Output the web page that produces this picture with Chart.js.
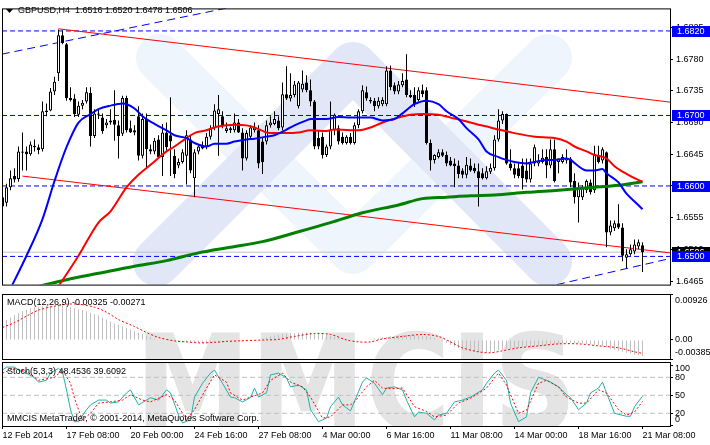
<!DOCTYPE html>
<html>
<head>
<meta charset="utf-8">
<script src="https://cdn.jsdelivr.net/npm/chart.js@4.4.1/dist/chart.umd.min.js"></script>
<style>
  body { margin: 0; background: #fff; width: 710px; height: 445px; overflow: hidden; position: relative; }
  canvas { position: absolute; left: 0; }
  #main { top: 0; }
  #macd { top: 293px; }
  #stoch { top: 361px; }
</style>
</head>
<body>
<canvas id="main" width="710" height="293"></canvas>
<canvas id="macd" width="710" height="68"></canvas>
<canvas id="stoch" width="710" height="84"></canvas>
<script>
// GBPUSD H4 candles, 12 Feb 16:00 .. 21 Mar 08:00
const opens = [1.6584,1.6576,1.6598,1.6614,1.6610,1.6649,1.6649,1.6645,1.6657,1.6655,
  1.6652,1.6707,1.6707,1.6734,1.6760,1.6814,1.6801,1.6725,1.6724,1.6701,
  1.6714,1.6720,1.6732,1.6671,1.6703,1.6697,1.6686,1.6693,1.6694,1.6686,
  1.6674,1.6725,1.6682,1.6679,1.6699,1.6643,1.6695,1.6652,1.6649,1.6666,
  1.6641,1.6676,1.6672,1.6643,1.6629,1.6634,1.6643,1.6666,1.6611,1.6649,
  1.6657,1.6656,1.6670,1.6682,1.6702,1.6699,1.6678,1.6679,1.6679,1.6690,
  1.6676,1.6639,1.6670,1.6679,1.6679,1.6663,1.6663,1.6686,1.6688,1.6693,
  1.6683,1.6730,1.6724,1.6729,1.6713,1.6737,1.6747,1.6736,1.6720,1.6668,
  1.6670,1.6644,1.6656,1.6679,1.6682,1.6670,1.6661,1.6670,1.6661,1.6686,
  1.6706,1.6733,1.6722,1.6721,1.6713,1.6716,1.6716,1.6764,1.6743,1.6734,
  1.6743,1.6751,1.6729,1.6729,1.6722,1.6736,1.6736,1.6661,1.6637,1.6641,
  1.6648,1.6644,1.6636,1.6632,1.6629,1.6622,1.6616,1.6629,1.6626,1.6621,
  1.6618,1.6611,1.6620,1.6625,1.6666,1.6693,1.6702,1.6632,1.6625,1.6625,
  1.6629,1.6622,1.6609,1.6632,1.6632,1.6634,1.6641,1.6629,1.6652,1.6634,
  1.6634,1.6636,1.6639,1.6607,1.6584,1.6584,1.6594,1.6605,1.6594,1.6643,
  1.6636,1.6648,1.6534,1.6540,1.6547,1.6541,1.6498,1.6503,1.6507,1.6514,
  1.6516];
const highs = [1.6605,1.6603,1.6622,1.6625,1.6656,1.6676,1.6656,1.6663,1.6666,1.6659,
  1.6720,1.6717,1.6739,1.6755,1.6822,1.6821,1.6803,1.6740,1.6730,1.6720,
  1.6722,1.6740,1.6740,1.6709,1.6709,1.6703,1.6695,1.6709,1.6736,1.6693,
  1.6728,1.6728,1.6693,1.6686,1.6713,1.6703,1.6703,1.6659,1.6668,1.6672,
  1.6688,1.6690,1.6726,1.6652,1.6639,1.6652,1.6679,1.6672,1.6652,1.6659,
  1.6663,1.6675,1.6686,1.6716,1.6729,1.6706,1.6690,1.6684,1.6703,1.6695,
  1.6682,1.6679,1.6686,1.6690,1.6686,1.6668,1.6693,1.6699,1.6706,1.6699,
  1.6747,1.6770,1.6760,1.6749,1.6749,1.6764,1.6757,1.6751,1.6722,1.6679,
  1.6676,1.6659,1.6720,1.6703,1.6686,1.6676,1.6672,1.6675,1.6690,1.6709,
  1.6743,1.6741,1.6726,1.6725,1.6726,1.6726,1.6770,1.6771,1.6747,1.6749,
  1.6760,1.6787,1.6736,1.6740,1.6740,1.6744,1.6740,1.6666,1.6645,1.6652,
  1.6652,1.6649,1.6641,1.6639,1.6636,1.6625,1.6641,1.6639,1.6632,1.6632,
  1.6625,1.6628,1.6632,1.6672,1.6709,1.6706,1.6703,1.6652,1.6632,1.6634,
  1.6639,1.6639,1.6639,1.6659,1.6645,1.6652,1.6652,1.6666,1.6666,1.6639,
  1.6645,1.6652,1.6641,1.6618,1.6605,1.6601,1.6609,1.6609,1.6657,1.6657,
  1.6655,1.6649,1.6551,1.6551,1.6574,1.6547,1.6510,1.6517,1.6524,1.6524,
  1.6520];
const lows = [1.6537,1.6571,1.6594,1.6605,1.6606,1.6622,1.6622,1.6643,1.6649,1.6645,
  1.6649,1.6699,1.6706,1.6729,1.6749,1.6801,1.6721,1.6720,1.6698,1.6698,
  1.6709,1.6717,1.6656,1.6668,1.6695,1.6674,1.6682,1.6687,1.6664,1.6639,
  1.6671,1.6676,1.6675,1.6672,1.6636,1.6639,1.6625,1.6645,1.6645,1.6639,
  1.6614,1.6649,1.6614,1.6611,1.6625,1.6632,1.6602,1.6618,1.6584,1.6645,
  1.6652,1.6652,1.6666,1.6679,1.6643,1.6682,1.6675,1.6675,1.6676,1.6675,
  1.6622,1.6636,1.6666,1.6676,1.6625,1.6617,1.6659,1.6683,1.6686,1.6679,
  1.6679,1.6722,1.6720,1.6726,1.6710,1.6733,1.6733,1.6713,1.6652,1.6652,
  1.6639,1.6641,1.6652,1.6672,1.6659,1.6659,1.6659,1.6659,1.6659,1.6682,
  1.6703,1.6721,1.6717,1.6706,1.6710,1.6713,1.6713,1.6736,1.6730,1.6730,
  1.6740,1.6726,1.6725,1.6712,1.6720,1.6726,1.6659,1.6622,1.6632,1.6639,
  1.6641,1.6628,1.6628,1.6598,1.6611,1.6611,1.6611,1.6620,1.6618,1.6571,
  1.6609,1.6609,1.6617,1.6622,1.6663,1.6688,1.6630,1.6622,1.6611,1.6611,
  1.6595,1.6605,1.6605,1.6628,1.6628,1.6632,1.6611,1.6625,1.6605,1.6618,
  1.6632,1.6632,1.6598,1.6575,1.6548,1.6580,1.6590,1.6588,1.6590,1.6632,
  1.6632,1.6513,1.6530,1.6536,1.6539,1.6493,1.6483,1.6501,1.6503,1.6510,
  1.6478];
const closes = [1.6571,1.6598,1.6611,1.6609,1.6649,1.6647,1.6645,1.6659,1.6655,1.6651,
  1.6706,1.6705,1.6734,1.6748,1.6814,1.6803,1.6725,1.6722,1.6702,1.6714,
  1.6718,1.6733,1.6671,1.6703,1.6701,1.6678,1.6690,1.6690,1.6687,1.6671,
  1.6725,1.6679,1.6676,1.6676,1.6643,1.6695,1.6652,1.6649,1.6664,1.6641,
  1.6676,1.6655,1.6663,1.6617,1.6634,1.6648,1.6672,1.6622,1.6648,1.6656,
  1.6653,1.6670,1.6682,1.6707,1.6709,1.6686,1.6682,1.6682,1.6690,1.6676,
  1.6639,1.6675,1.6683,1.6683,1.6632,1.6634,1.6686,1.6690,1.6695,1.6682,
  1.6730,1.6724,1.6729,1.6744,1.6747,1.6745,1.6736,1.6720,1.6656,1.6656,
  1.6644,1.6656,1.6680,1.6701,1.6663,1.6661,1.6670,1.6661,1.6686,1.6706,
  1.6736,1.6724,1.6720,1.6713,1.6721,1.6722,1.6764,1.6740,1.6734,1.6744,
  1.6749,1.6729,1.6726,1.6716,1.6736,1.6730,1.6661,1.6636,1.6644,1.6648,
  1.6643,1.6632,1.6629,1.6628,1.6617,1.6616,1.6630,1.6622,1.6621,1.6611,
  1.6611,1.6621,1.6626,1.6666,1.6693,1.6702,1.6632,1.6625,1.6616,1.6614,
  1.6611,1.6609,1.6632,1.6655,1.6636,1.6640,1.6629,1.6652,1.6607,1.6639,
  1.6641,1.6640,1.6605,1.6584,1.6598,1.6599,1.6607,1.6591,1.6645,1.6634,
  1.6652,1.6534,1.6544,1.6547,1.6541,1.6501,1.6503,1.6510,1.6517,1.6520,
  1.6506];

// moving averages, read at sample bars
const blueMaIdx = [1,6,10,13,16,19,22,24,27,30,33,35,38,41,43,46,48,51,53,56,58,61,63,66,68,71,73,76,77,81,84,87,92,95,98,100,103,106,109,111,114,116,119,121,124,126,128,131,133,136,138,141,142,144,146,148,150,151,154,156,158,160];
const blueMaVal = [1.6443,1.6501,1.6553,1.6607,1.6655,1.6690,1.6702,1.6709,1.6714,1.6717,1.6710,1.6699,1.6688,1.6679,1.6672,1.6668,1.6661,1.6656,1.6660,1.6660,1.6663,1.6666,1.6667,1.6670,1.6672,1.6680,1.6686,1.6693,1.6695,1.6695,1.6698,1.6697,1.6697,1.6693,1.6695,1.6703,1.6716,1.6721,1.6716,1.6706,1.6695,1.6682,1.6666,1.6649,1.6641,1.6637,1.6634,1.6632,1.6634,1.6637,1.6637,1.6639,1.6637,1.6628,1.6622,1.6622,1.6624,1.6618,1.6605,1.6589,1.6578,1.6567];
const redMaIdx = [13,19,24,27,31,34,37,41,43,46,48,51,53,56,58,61,63,66,68,71,74,77,81,83,89,92,95,99,102,105,109,112,115,119,122,124,128,133,138,141,143,146,148,151,153,156,158,160];
const redMaVal = [1.6449,1.6501,1.6548,1.6564,1.6598,1.6616,1.6630,1.6649,1.6656,1.6668,1.6675,1.6679,1.6683,1.6686,1.6687,1.6686,1.6683,1.6676,1.6675,1.6675,1.6676,1.6679,1.6678,1.6680,1.6679,1.6683,1.6690,1.6697,1.6701,1.6702,1.6701,1.6697,1.6693,1.6687,1.6683,1.6680,1.6675,1.6670,1.6668,1.6663,1.6656,1.6649,1.6644,1.6639,1.6628,1.6617,1.6611,1.6606];
const greenMaIdx = [8,16,24,33,41,49,57,65,74,82,90,99,105,111,117,123,131,139,148,154,160];
const greenMaVal = [1.6456,1.6467,1.6476,1.6486,1.6494,1.6505,1.6513,1.6521,1.6535,1.6548,1.6562,1.6573,1.6582,1.6584,1.6586,1.6587,1.6591,1.6594,1.6598,1.6601,1.6606];

// drawn objects: trend channel and horizontal levels
const redUpper = [[14, 1.6823], [166.9, 1.6719]];
const redLower = [[5, 1.6614], [166.9, 1.6505]];
const blueUpper = [[-0.2, 1.6787], [60, 1.6857]];
const blueLower = [[138.6, 1.6460], [166.9, 1.6497]];
const levels = [1.6820, 1.6700, 1.6600, 1.6500];
const bidPrice = 1.6506;
const priceTicks = [1.6465, 1.6510, 1.6555, 1.6600, 1.6645, 1.6690, 1.6735, 1.6780, 1.6825];

// MACD(12,26,9)
const macdHist = [0.0035,0.0040,0.0045,0.0050,0.0054,0.0058,0.0061,0.0064,0.0066,0.0067,
  0.0068,0.0069,0.0069,0.0069,0.0069,0.0069,0.0068,0.0066,0.0064,0.0062,
  0.0060,0.0058,0.0055,0.0052,0.0049,0.0045,0.0041,0.0037,0.0033,0.0030,
  0.0027,0.0024,0.0021,0.0018,0.0015,0.0012,0.0009,0.0006,0.0003,0.0001,
  0.0000,-0.0001,-0.0002,-0.0003,-0.0004,-0.0005,-0.0005,-0.0005,-0.0006,-0.0006,
  -0.0006,-0.0005,-0.0005,-0.0005,-0.0005,-0.0005,-0.0004,-0.0004,-0.0004,-0.0003,
  -0.0003,-0.0002,-0.0001,0.0000,0.0001,0.0003,0.0005,0.0007,0.0009,0.0010,
  0.0012,0.0013,0.0014,0.0014,0.0015,0.0015,0.0015,0.0015,0.0014,0.0013,
  0.0012,0.0010,0.0008,0.0006,0.0004,0.0002,0.0001,0.0000,0.0000,0.0000,
  0.0001,0.0001,0.0002,0.0003,0.0004,0.0005,0.0006,0.0007,0.0008,0.0009,
  0.0010,0.0010,0.0010,0.0010,0.0009,0.0009,0.0008,0.0006,0.0004,0.0001,
  -0.0002,-0.0006,-0.0010,-0.0014,-0.0017,-0.0020,-0.0022,-0.0023,-0.0024,-0.0025,
  -0.0025,-0.0025,-0.0024,-0.0023,-0.0021,-0.0020,-0.0019,-0.0018,-0.0017,-0.0016,
  -0.0015,-0.0014,-0.0014,-0.0013,-0.0012,-0.0011,-0.0010,-0.0009,-0.0008,-0.0007,
  -0.0006,-0.0006,-0.0006,-0.0006,-0.0006,-0.0007,-0.0008,-0.0009,-0.0010,-0.0011,
  -0.0013,-0.0015,-0.0018,-0.0020,-0.0022,-0.0024,-0.0026,-0.0028,-0.0030,-0.0031,
  -0.00325];
const macdSigIdx = [0,3,6,9,13,16,19,23,26,29,33,36,39,43,46,49,53,56,59,66,69,73,78,82,86,89,92,95,100,105,109,112,115,119,122,125,129,134,139,144,149,154,158,160];
const macdSigVal = [0.0025,0.0035,0.0048,0.0060,0.0068,0.0072,0.0072,0.0066,0.0056,0.0041,0.0027,0.0015,0.0005,-0.0002,-0.0004,-0.0006,-0.0005,-0.0003,-0.0002,0.0000,0.0001,0.0007,0.0013,0.0011,0.0000,-0.0004,-0.0004,0.0002,0.0007,0.0011,0.0007,-0.0004,-0.0016,-0.0024,-0.0026,-0.0022,-0.0016,-0.0012,-0.0008,-0.0008,-0.0012,-0.0016,-0.0024,-0.00271];
const macdTicks = [0.00926, 0, -0.00385];

// Stochastic(5,3,3)
const stochMainIdx = [0,1,3,4,6,8,9,11,12,14,15,16,17,18,19,21,22,24,26,27,29,31,32,34,36,37,39,41,42,44,45,47,48,50,52,53,55,57,58,60,62,63,64,66,67,69,71,72,74,76,77,79,81,82,84,85,87,88,89,90,91,93,95,96,98,100,101,103,104,106,108,109,111,113,115,117,120,121,123,124,126,127,129,131,132,134,136,137,139,141,142,144,146,147,149,150,151,153,156,157,158,160];
const stochMainVal = [92,97,97,92,87,79,72,75,87,95,89,59,26,6,6,26,34,42,42,37,39,54,59,34,42,46,42,59,54,17,4,9,47,70,87,92,70,47,46,39,46,62,47,54,84,87,79,64,67,59,26,6,12,31,47,34,24,40,56,72,79,70,51,62,64,59,42,14,22,20,9,17,20,39,42,47,59,70,87,92,75,37,6,14,54,80,75,72,64,51,46,26,37,54,62,72,54,20,15,15,31,48.4536];
const stochSigIdx = [0,3,6,9,13,15,17,18,19,20,22,24,27,30,32,35,37,41,43,46,48,51,53,56,57,60,62,65,67,70,72,75,77,80,82,85,87,88,91,93,95,97,100,103,106,108,111,114,117,121,124,126,129,131,134,136,139,141,144,146,149,151,154,156,158,160];
const stochSigVal = [87,95,90,75,80,92,70,45,26,9,20,37,39,42,51,42,39,51,42,9,26,62,84,72,54,42,47,54,75,87,72,64,47,12,14,34,34,39,64,75,62,61,62,31,23,14,17,37,45,62,87,67,20,25,70,75,64,47,37,37,59,54,26,17,22,39.6092];
const stochLevels = [20, 50, 80];
const stochTicks = [100, 80, 50, 20, 0];

// time axis
const tickBars = [0,16,32,48,64,80,96,112,128,144,160];
const xLabels = ["12 Feb 2014","17 Feb 08:00","20 Feb 00:00","24 Feb 16:00","27 Feb 08:00","4 Mar 00:00","6 Mar 16:00","11 Mar 08:00","14 Mar 00:00","18 Mar 16:00","21 Mar 08:00"];

const FONT = "'Liberation Sans', Arial, sans-serif";
Chart.defaults.font.family = FONT;
Chart.defaults.font.size = 9;
Chart.defaults.color = '#000';

const xMin = -0.125, xMax = 166.875;
const bars = opens.map((_, i) => i);

function xScale(show) {
  return {
    type: 'linear', min: xMin, max: xMax, offset: false, display: show,
    afterBuildTicks: s => { s.ticks = tickBars.map(v => ({ value: v })); },
    afterFit: s => { s.paddingLeft = 0; s.paddingRight = 0; if (show) s.height = 19; },
    ticks: { autoSkip: false, maxRotation: 0, align: 'start', padding: 1, font: { size: 9 },
      callback: v => xLabels[tickBars.indexOf(v)] },
    grid: { drawOnChartArea: false, drawTicks: true, tickLength: 3, color: '#000' },
    border: { display: false }
  };
}

function yScale(min, max, ticks, showLabels) {
  return {
    position: 'right', min, max,
    afterBuildTicks: s => { s.ticks = ticks.map(v => ({ value: v })); },
    afterFit: s => { s.width = 40; },
    ticks: { display: showLabels, padding: 3, font: { size: 9 }, callback: v => v.toFixed(4) },
    grid: { drawOnChartArea: false, drawTicks: true, tickLength: 3, color: '#000' },
    border: { display: false }
  };
}

function lineSet(pairs, color, width, extra) {
  return Object.assign({
    type: 'line', data: pairs.map(p => ({ x: p[0], y: p[1] })),
    borderColor: color, borderWidth: width, pointRadius: 0, fill: false
  }, extra || {});
}
const zip = (a, b) => a.map((v, k) => [v, b[k]]);

const frame = {
  id: 'frame',
  afterDraw(chart) {
    const { ctx, chartArea: a } = chart;
    ctx.save();
    ctx.strokeStyle = '#000';
    ctx.lineWidth = 1;
    ctx.strokeRect(a.left + 0.5, a.top + 0.5, a.right - a.left, a.bottom - a.top);
    ctx.restore();
  }
};

// faint MMCIS logo behind the price chart
const logoBlue = {
  id: 'logoBlue',
  beforeDatasetsDraw(chart) {
    const { ctx, chartArea: a } = chart;
    ctx.save();
    ctx.beginPath(); ctx.rect(a.left, a.top, a.right - a.left, a.bottom - a.top); ctx.clip();
    ctx.lineCap = 'round'; ctx.lineJoin = 'round'; ctx.lineWidth = 48;
    ctx.strokeStyle = '#eff5fd';
    ctx.beginPath(); ctx.moveTo(160, 58); ctx.lineTo(353, 250); ctx.lineTo(548, 58); ctx.stroke();
    ctx.strokeStyle = '#e1e7f7';
    ctx.beginPath(); ctx.moveTo(157, 262); ctx.lineTo(353, 66); ctx.lineTo(548, 262); ctx.stroke();
    ctx.restore();
  }
};

function logoGrey(canvasTop) {
  return {
    id: 'logoGrey',
    beforeDatasetsDraw(chart) {
      const { ctx, chartArea: a } = chart;
      ctx.save();
      ctx.beginPath(); ctx.rect(a.left, a.top, a.right - a.left, a.bottom - a.top); ctx.clip();
      ctx.font = "bold 134px 'DejaVu Sans', sans-serif";
      ctx.fillStyle = '#e4e4e4';
      ctx.textBaseline = 'alphabetic';
      const w = ctx.measureText('MMCIS').width;
      ctx.translate(135, 430 - canvasTop);
      ctx.scale(442 / w, 1);
      ctx.fillText('MMCIS', 0, 0);
      ctx.restore();
    }
  };
}

const mainDecor = {
  id: 'mainDecor',
  afterDraw(chart) {
    const { ctx, chartArea: a, scales: { y } } = chart;
    ctx.save();
    // title
    ctx.fillStyle = '#000';
    ctx.beginPath(); ctx.moveTo(6, 9); ctx.lineTo(13, 9); ctx.lineTo(9.5, 13); ctx.closePath(); ctx.fill();
    ctx.font = `9px ${FONT}`;
    ctx.textBaseline = 'middle'; ctx.textAlign = 'left';
    const n = closes.length - 1;
    ctx.fillText(`GBPUSD,H4  ${opens[n].toFixed(4)} ${highs[n].toFixed(4)} ${lows[n].toFixed(4)} ${closes[n].toFixed(4)}`, 18, 11);
    // price boxes on the axis
    const box = (v, bg) => {
      const py = y.getPixelForValue(v);
      ctx.fillStyle = bg;
      ctx.fillRect(a.right + 2, Math.round(py) - 5, 40, 11);
      ctx.fillStyle = '#fff';
      ctx.fillText(v.toFixed(4), a.right + 7, Math.round(py) + 0.5);
    };
    box(bidPrice, '#000');
    levels.forEach(v => box(v, '#0000ff'));
    ctx.restore();
  }
};

function sideLabels(values, fmt, texts) {
  return {
    id: 'sideLabels',
    afterDraw(chart) {
      const { ctx, chartArea: a, scales: { y } } = chart;
      ctx.save();
      ctx.font = `9px ${FONT}`; ctx.fillStyle = '#000';
      ctx.textBaseline = 'middle'; ctx.textAlign = 'left';
      values.forEach(v => {
        let py = y.getPixelForValue(v);
        py = Math.min(Math.max(py, a.top + 7), a.bottom - 6);
        ctx.fillText(fmt(v), a.right + 5, py);
      });
      texts.forEach(t => ctx.fillText(t[0], 7, t[1]));
      ctx.restore();
    }
  };
}

const common = {
  responsive: false, animation: false, events: [],
  plugins: { legend: { display: false }, tooltip: { enabled: false } }
};

// ---------------- PRICE CHART ----------------
new Chart(document.getElementById('main'), {
  type: 'bar',
  data: {
    datasets: [
      lineSet(zip(blueMaIdx, blueMaVal), '#0000ff', 2, { order: 0, cubicInterpolationMode: 'monotone' }),
      lineSet(zip(redMaIdx, redMaVal), '#ff0000', 2, { order: 1, cubicInterpolationMode: 'monotone' }),
      lineSet(zip(greenMaIdx, greenMaVal), '#008000', 3, { order: 2, cubicInterpolationMode: 'monotone' }),
      {
        type: 'bar', order: 3,
        data: bars.map(i => ({ x: i, y: [Math.min(opens[i], closes[i]), Math.max(opens[i], closes[i])] })),
        backgroundColor: bars.map(i => closes[i] >= opens[i] ? '#ffffff' : '#000000'),
        borderColor: '#000', borderWidth: 1, borderSkipped: false,
        barThickness: 3, grouped: false, inflateAmount: 0, minBarLength: 1
      },
      {
        type: 'bar', order: 4,
        data: bars.map(i => ({ x: i, y: [lows[i], highs[i]] })),
        backgroundColor: '#000', barThickness: 1, grouped: false, inflateAmount: 0
      },
      lineSet(redUpper, '#ff0000', 1, { order: 5 }),
      lineSet(redLower, '#ff0000', 1, { order: 5 }),
      lineSet(blueUpper, '#0000ff', 1, { order: 5, borderDash: [8, 5] }),
      lineSet(blueLower, '#0000ff', 1, { order: 5, borderDash: [8, 5] }),
      ...levels.map(v => lineSet([[xMin, v], [xMax, v]], '#0000ff', 1, { order: 6, borderDash: [5, 3] })),
      lineSet([[xMin, bidPrice], [xMax, bidPrice]], '#c0c0c0', 1, { order: 7 })
    ]
  },
  options: Object.assign({}, common, {
    layout: { padding: { left: 2, top: 2, right: 0, bottom: 1 } },
    scales: { x: xScale(false), y: yScale(1.6460, 1.6852, priceTicks, true) }
  }),
  plugins: [logoBlue, frame, mainDecor]
});

// ---------------- MACD ----------------
new Chart(document.getElementById('macd'), {
  type: 'bar',
  data: {
    datasets: [
      lineSet(zip(macdSigIdx, macdSigVal), '#ff0000', 1, { order: 0, borderDash: [2, 2], tension: 0.3 }),
      {
        type: 'bar', order: 1,
        data: bars.map(i => ({ x: i, y: macdHist[i] })),
        backgroundColor: '#c0c0c0', barThickness: 1, grouped: false, inflateAmount: 0
      }
    ]
  },
  options: Object.assign({}, common, {
    layout: { padding: { left: 2, top: 1, right: 0, bottom: 2 } },
    scales: { x: xScale(false), y: yScale(-0.00385, 0.00926, macdTicks, false) }
  }),
  plugins: [logoGrey(293), frame,
    sideLabels(macdTicks, v => v === 0 ? '0.00' : v.toFixed(5),
      [[`MACD(12,26,9) ${macdHist[macdHist.length - 1].toFixed(5)} ${macdSigVal[macdSigVal.length - 1].toFixed(5)}`, 10]])]
});

// ---------------- STOCHASTIC ----------------
new Chart(document.getElementById('stoch'), {
  type: 'line',
  data: {
    datasets: [
      lineSet(zip(stochSigIdx, stochSigVal), '#ff0000', 1, { order: 0, borderDash: [2, 2] }),
      lineSet(zip(stochMainIdx, stochMainVal), '#20b2aa', 1, { order: 1 }),
      ...stochLevels.map(v => lineSet([[xMin, v], [xMax, v]], '#c0c0c0', 1, { order: 2, borderDash: [5, 3] }))
    ]
  },
  options: Object.assign({}, common, {
    layout: { padding: { left: 2, top: 1, right: 0, bottom: 0 } },
    scales: { x: xScale(true), y: yScale(-1.2, 105.5, stochTicks, false) }
  }),
  plugins: [logoGrey(361), frame,
    sideLabels(stochTicks, v => String(v),
      [[`Stoch(5,3,3) ${stochMainVal[stochMainVal.length - 1].toFixed(4)} ${stochSigVal[stochSigVal.length - 1].toFixed(4)}`, 11],
       ['MMCIS MetaTrader, \u00a9 2001-2014, MetaQuotes Software Corp.', 58]])]
});
</script>
</body>
</html>
